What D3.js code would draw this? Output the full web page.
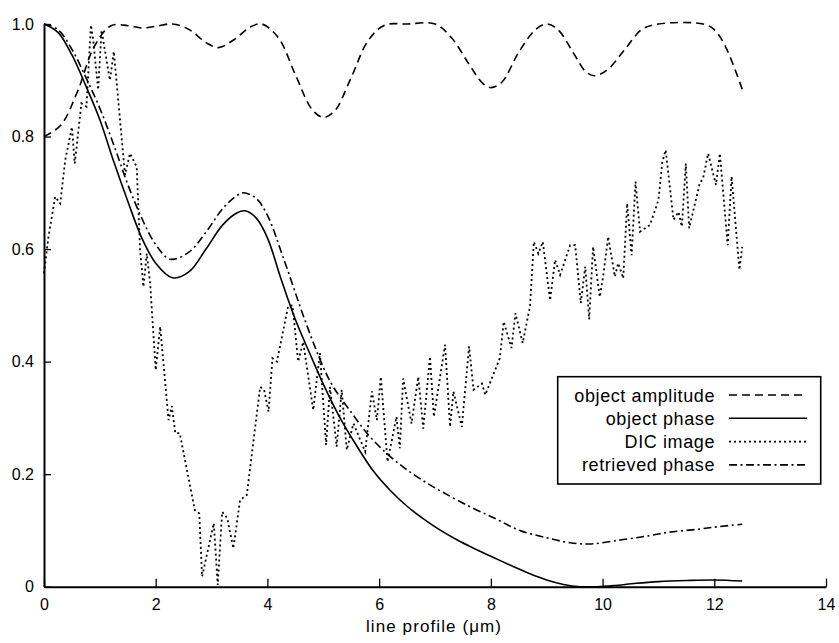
<!DOCTYPE html>
<html>
<head>
<meta charset="utf-8">
<script src="https://cdn.jsdelivr.net/npm/d3@7"></script>
<style>
  body { margin: 0; background: #fff; }
  svg { display: block; font-family: "Liberation Sans", Arial, Helvetica, sans-serif; }
</style>
</head>
<body>
<div id="chart"></div>
<script>
// line profiles, values
const xTicks = [0, 2, 4, 6, 8, 10, 12, 14];
const yTicks = [0, 0.2, 0.4, 0.6, 0.8, 1.0];

const amplitudeX = [0, 0.3, 0.6, 0.9, 1.2, 1.5, 1.75, 2.0, 2.3, 2.6, 2.9, 3.12, 3.4, 3.7, 3.9, 4.2, 4.5, 4.8, 5.0, 5.2, 5.5, 5.8, 6.1, 6.5, 7.0, 7.3, 7.6, 7.85, 8.0, 8.2, 8.5, 8.8, 9.0, 9.2, 9.5, 9.7, 9.86, 10.1, 10.4, 10.7, 11.0, 11.8, 12.0, 12.2, 12.5];
const amplitudeY = [0.80, 0.82, 0.88, 0.96, 0.997, 0.997, 0.993, 0.996, 1.0, 0.99, 0.967, 0.958, 0.972, 0.995, 1.0, 0.975, 0.91, 0.848, 0.834, 0.845, 0.905, 0.97, 0.998, 1.0, 1.0, 0.975, 0.93, 0.895, 0.887, 0.897, 0.95, 0.99, 1.0, 0.99, 0.945, 0.915, 0.908, 0.92, 0.955, 0.99, 1.0, 1.0, 0.99, 0.96, 0.884];

const phaseX = [0, 0.25, 0.5, 0.75, 1.0, 1.25, 1.5, 1.75, 2.0, 2.3, 2.6, 2.9, 3.2, 3.45, 3.6, 3.8, 4.0, 4.25, 4.5, 4.8, 5.0, 5.3, 5.6, 5.9, 6.2, 6.5, 6.8, 7.1, 7.4, 7.7, 8.0, 8.4, 8.7, 9.0, 9.3, 9.6, 9.9, 10.2, 10.6, 11.0, 11.5, 12.0, 12.5];
const phaseY = [1.0, 0.985, 0.945, 0.89, 0.83, 0.755, 0.685, 0.62, 0.575, 0.549, 0.56, 0.6, 0.643, 0.664, 0.668, 0.655, 0.62, 0.545, 0.475, 0.405, 0.36, 0.3, 0.25, 0.205, 0.171, 0.143, 0.12, 0.1, 0.083, 0.068, 0.054, 0.036, 0.023, 0.012, 0.004, 0.0, 0.0, 0.002, 0.006, 0.009, 0.011, 0.012, 0.010];

const dicX = [0.00, 0.08, 0.20, 0.29, 0.38, 0.50, 0.55, 0.67, 0.76, 0.84, 0.88, 0.97, 1.03, 1.18, 1.25, 1.45, 1.54, 1.66, 1.72, 1.78, 1.84, 1.90, 2.00, 2.08, 2.23, 2.29, 2.35, 2.43, 2.70, 2.78, 2.83, 3.04, 3.11, 3.19, 3.28, 3.39, 3.51, 3.63, 3.87, 3.94, 4.02, 4.09, 4.17, 4.37, 4.45, 4.55, 4.64, 4.82, 4.94, 5.05, 5.12, 5.24, 5.33, 5.42, 5.54, 5.75, 5.87, 5.96, 6.03, 6.15, 6.31, 6.37, 6.43, 6.58, 6.70, 6.79, 6.91, 6.98, 7.18, 7.27, 7.33, 7.48, 7.61, 7.69, 7.84, 7.90, 8.16, 8.23, 8.37, 8.44, 8.57, 8.70, 8.77, 8.85, 8.93, 9.06, 9.15, 9.24, 9.42, 9.51, 9.61, 9.69, 9.76, 9.83, 9.95, 10.01, 10.10, 10.22, 10.28, 10.37, 10.44, 10.52, 10.59, 10.67, 10.85, 11.00, 11.07, 11.13, 11.27, 11.36, 11.42, 11.49, 11.55, 11.74, 11.80, 11.89, 12.03, 12.10, 12.24, 12.31, 12.45, 12.50];
const dicY = [0.557, 0.622, 0.693, 0.681, 0.758, 0.817, 0.752, 0.859, 0.853, 0.998, 0.972, 0.883, 0.989, 0.900, 0.951, 0.732, 0.770, 0.746, 0.598, 0.533, 0.592, 0.539, 0.385, 0.462, 0.296, 0.321, 0.273, 0.273, 0.136, 0.130, 0.018, 0.113, 0.003, 0.133, 0.122, 0.068, 0.154, 0.163, 0.355, 0.350, 0.311, 0.406, 0.400, 0.498, 0.500, 0.400, 0.435, 0.314, 0.415, 0.252, 0.355, 0.249, 0.350, 0.243, 0.290, 0.240, 0.347, 0.296, 0.373, 0.222, 0.302, 0.246, 0.370, 0.290, 0.373, 0.281, 0.409, 0.302, 0.430, 0.284, 0.347, 0.284, 0.427, 0.350, 0.361, 0.341, 0.406, 0.471, 0.424, 0.486, 0.433, 0.498, 0.613, 0.592, 0.613, 0.509, 0.581, 0.554, 0.607, 0.607, 0.504, 0.569, 0.475, 0.604, 0.515, 0.551, 0.622, 0.551, 0.575, 0.548, 0.681, 0.589, 0.720, 0.631, 0.643, 0.687, 0.755, 0.776, 0.652, 0.666, 0.640, 0.752, 0.637, 0.717, 0.726, 0.770, 0.714, 0.770, 0.607, 0.729, 0.563, 0.604];

const retrievedX = [0, 0.25, 0.5, 0.75, 1.0, 1.25, 1.5, 1.75, 2.0, 2.26, 2.6, 2.9, 3.2, 3.45, 3.57, 3.8, 4.0, 4.3, 4.67, 5.0, 5.18, 5.5, 5.78, 6.1, 6.4, 6.73, 7.1, 7.63, 8.1, 8.52, 9.0, 9.42, 9.8, 10.31, 10.8, 11.2, 11.7, 12.1, 12.5];
const retrievedY = [1.0, 0.99, 0.955, 0.905, 0.85, 0.785, 0.715, 0.655, 0.608, 0.582, 0.595, 0.63, 0.672, 0.695, 0.700, 0.69, 0.66, 0.58, 0.474, 0.39, 0.355, 0.31, 0.273, 0.24, 0.215, 0.192, 0.17, 0.142, 0.12, 0.10, 0.087, 0.078, 0.076, 0.083, 0.09, 0.097, 0.102, 0.107, 0.111];

const series = [
  { name: "object amplitude", xs: amplitudeX, ys: amplitudeY, dash: "8,5", smooth: true },
  { name: "object phase", xs: phaseX, ys: phaseY, dash: null, smooth: true },
  { name: "DIC image", xs: dicX, ys: dicY, dash: "2,3", smooth: false },
  { name: "retrieved phase", xs: retrievedX, ys: retrievedY, dash: "8,3.5,2,3.5", smooth: true }
];

const W = 839, H = 643;
const x0 = 44, x1 = 826, yBase = 586.7, yTop = 24;

const svg = d3.select("#chart").append("svg")
  .attr("width", W)
  .attr("height", H);

const x = d3.scaleLinear().domain([0, 14]).range([x0, x1]);
const y = d3.scaleLinear().domain([0, 1]).range([yBase, yTop]);

// x axis (ticks point inward / up)
const xAxis = svg.append("g")
  .attr("transform", `translate(0,${yBase})`)
  .call(d3.axisBottom(x).tickValues(xTicks).tickSize(-8).tickSizeOuter(0).tickPadding(12).tickFormat(d3.format("d")));
xAxis.select(".domain").attr("stroke-width", 2);
xAxis.selectAll(".tick line").attr("stroke-width", 1.3);
xAxis.selectAll("text").style("font-size", "16px").attr("fill", "#000");

// y axis (ticks point right)
const yAxis = svg.append("g")
  .attr("transform", `translate(${x0},0)`)
  .call(d3.axisLeft(y).tickValues(yTicks).tickSize(-7).tickSizeOuter(0).tickPadding(10)
    .tickFormat(d => d === 0 ? "0" : d3.format(".1f")(d)));
yAxis.select(".domain").attr("stroke-width", 2);
yAxis.selectAll(".tick line").attr("stroke-width", 1.3);
yAxis.selectAll("text").style("font-size", "16px").attr("fill", "#000");

// curves
series.forEach(s => {
  const pts = s.xs.map((v, i) => [v, s.ys[i]]);
  const line = d3.line()
    .x(d => x(d[0]))
    .y(d => y(d[1]))
    .curve(s.smooth ? d3.curveCatmullRom.alpha(0.5) : d3.curveLinear);
  svg.append("path")
    .datum(pts)
    .attr("d", line)
    .attr("fill", "none")
    .attr("stroke", "#000")
    .attr("stroke-width", s.dash === "2,3" ? 1.8 : 1.6)
    .attr("stroke-dasharray", s.dash);
});

// x label
svg.append("text")
  .attr("x", 434).attr("y", 632)
  .attr("text-anchor", "middle")
  .style("font-size", "17px")
  .style("letter-spacing", "1.1px")
  .text("line profile (\u03bcm)");

// legend
const lg = svg.append("g");
lg.append("rect")
  .attr("x", 557.7).attr("y", 376.7)
  .attr("width", 263).attr("height", 107.3)
  .attr("fill", "#fff")
  .attr("stroke", "#000")
  .attr("stroke-width", 1.6);

series.forEach((s, i) => {
  const cy = 395 + i * 23.3;
  lg.append("text")
    .attr("x", 715).attr("y", cy + 6.5)
    .attr("text-anchor", "end")
    .style("font-size", "18px")
    .style("letter-spacing", "0.6px")
    .text(s.name);
  lg.append("line")
    .attr("x1", 729).attr("x2", 807)
    .attr("y1", cy).attr("y2", cy)
    .attr("stroke", "#000")
    .attr("stroke-width", s.dash === "2,3" ? 1.8 : 1.6)
    .attr("stroke-dasharray", s.dash);
});
</script>
</body>
</html>
